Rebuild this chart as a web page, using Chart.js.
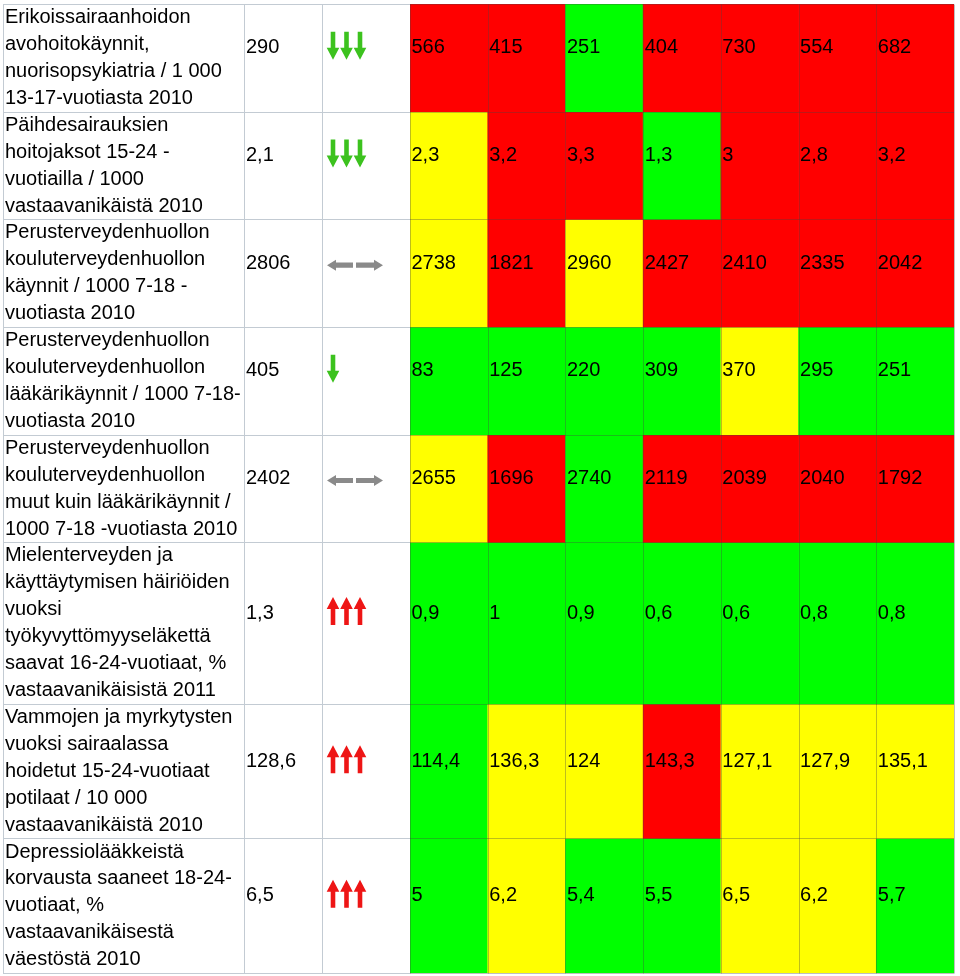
<!DOCTYPE html>
<html>
<head>
<meta charset="utf-8">
<script src="https://cdn.jsdelivr.net/npm/chart.js@4.4.1/dist/chart.umd.min.js"></script>
<style>
  html, body { margin: 0; padding: 0; background: #fff; }
  #wrap { width: 960px; height: 976px; }
</style>
</head>
<body>
<div id="wrap"><canvas id="table" width="960" height="976"></canvas></div>
<script>
// indicator names, one entry per printed line (row height follows line count)
const rowLabels = [
  ["Erikoissairaanhoidon", "avohoitokäynnit,", "nuorisopsykiatria / 1 000", "13-17-vuotiasta 2010"],
  ["Päihdesairauksien", "hoitojaksot 15-24 -", "vuotiailla / 1000", "vastaavanikäistä 2010"],
  ["Perusterveydenhuollon", "kouluterveydenhuollon", "käynnit / 1000 7-18 -", "vuotiasta 2010"],
  ["Perusterveydenhuollon", "kouluterveydenhuollon", "lääkärikäynnit / 1000 7-18-", "vuotiasta 2010"],
  ["Perusterveydenhuollon", "kouluterveydenhuollon", "muut kuin lääkärikäynnit /", "1000 7-18 -vuotiasta 2010"],
  ["Mielenterveyden ja", "käyttäytymisen häiriöiden", "vuoksi", "työkyvyttömyyseläkettä", "saavat 16-24-vuotiaat, %", "vastaavanikäisistä 2011"],
  ["Vammojen ja myrkytysten", "vuoksi sairaalassa", "hoidetut 15-24-vuotiaat", "potilaat / 10 000", "vastaavanikäistä 2010"],
  ["Depressiolääkkeistä", "korvausta saaneet 18-24-", "vuotiaat, %", "vastaavanikäisestä", "väestöstä 2010"]
];

// reference value and trend arrows
const refValues = [290, 2.1, 2806, 405, 2402, 1.3, 128.6, 6.5];
const trendDir = ["down", "down", "flat", "down", "flat", "up", "up", "up"];
const trendCount = [3, 3, 2, 1, 2, 3, 3, 3];

// the seven compared areas (headers not shown in the picture)
const areas = ["1", "2", "3", "4", "5", "6", "7"];

const cellValues = [
  [566, 415, 251, 404, 730, 554, 682],
  [2.3, 3.2, 3.3, 1.3, 3, 2.8, 3.2],
  [2738, 1821, 2960, 2427, 2410, 2335, 2042],
  [83, 125, 220, 309, 370, 295, 251],
  [2655, 1696, 2740, 2119, 2039, 2040, 1792],
  [0.9, 1, 0.9, 0.6, 0.6, 0.8, 0.8],
  [114.4, 136.3, 124, 143.3, 127.1, 127.9, 135.1],
  [5, 6.2, 5.4, 5.5, 6.5, 6.2, 5.7]
];

// R = red, Y = yellow, G = green
const cellStatus = [
  ["R", "R", "G", "R", "R", "R", "R"],
  ["Y", "R", "R", "G", "R", "R", "R"],
  ["Y", "R", "Y", "R", "R", "R", "R"],
  ["G", "G", "G", "G", "Y", "G", "G"],
  ["Y", "R", "G", "R", "R", "R", "R"],
  ["G", "G", "G", "G", "G", "G", "G"],
  ["G", "Y", "Y", "R", "Y", "Y", "Y"],
  ["G", "Y", "G", "G", "Y", "Y", "G"]
];

const statusColor = { R: "#ff0000", Y: "#ffff00", G: "#00ff00" };
const FONT = '20px "Liberation Sans", Arial, sans-serif';

// row extents in "text line" units
const rowStart = [];
let acc = 0;
rowLabels.forEach((lines) => { rowStart.push(acc); acc += lines.length; });
const totalLines = acc;

const fmt = (v) => String(v).replace(".", ",");

// left columns: label | value | trend arrows (cell borders in px)
const LABEL_X = 3, VALUE_X = 244, ARROW_X = 322;

function vArrow(ctx, cx, cy, dir, color) {
  // dir 1 = pointing down, -1 = pointing up
  const L = 28, sw = 2.3, hw = 6.3, hl = 12;
  const tip = cy + dir * L / 2, tail = cy - dir * L / 2, base = tip - dir * hl;
  ctx.fillStyle = color;
  ctx.beginPath();
  ctx.moveTo(cx - sw, tail);
  ctx.lineTo(cx + sw, tail);
  ctx.lineTo(cx + sw, base);
  ctx.lineTo(cx + hw, base);
  ctx.lineTo(cx, tip);
  ctx.lineTo(cx - hw, base);
  ctx.lineTo(cx - sw, base);
  ctx.closePath();
  ctx.fill();
}

function hArrow(ctx, from, to, cy, color) {
  const d = Math.sign(to - from), sw = 2.6, hw = 5.5, hl = 9;
  const base = to - d * hl;
  ctx.fillStyle = color;
  ctx.beginPath();
  ctx.moveTo(from, cy - sw);
  ctx.lineTo(base, cy - sw);
  ctx.lineTo(base, cy - hw);
  ctx.lineTo(to, cy);
  ctx.lineTo(base, cy + hw);
  ctx.lineTo(base, cy + sw);
  ctx.lineTo(from, cy + sw);
  ctx.closePath();
  ctx.fill();
}

const tablePlugin = {
  id: "tablePlugin",
  afterDatasetsDraw(chart) {
    const { ctx, chartArea: a, scales: { x, y } } = chart;
    const colW = x.width / areas.length;
    const bounds = rowStart.concat([totalLines]).map((v) => Math.round(y.getPixelForValue(v)) + 0.5);
    ctx.save();

    // grid: left part
    ctx.strokeStyle = "#c3cbd3";
    ctx.lineWidth = 1;
    ctx.beginPath();
    bounds.forEach((py) => { ctx.moveTo(LABEL_X, py); ctx.lineTo(a.left, py); });
    [LABEL_X, VALUE_X, ARROW_X].forEach((px) => {
      ctx.moveTo(px + 0.5, bounds[0]);
      ctx.lineTo(px + 0.5, bounds[bounds.length - 1]);
    });
    ctx.stroke();

    // grid: coloured part
    ctx.strokeStyle = "rgba(70,70,70,0.35)";
    ctx.beginPath();
    bounds.forEach((py) => { ctx.moveTo(a.left, py); ctx.lineTo(a.right, py); });
    for (let c = 0; c <= areas.length; c++) {
      const px = Math.round(a.left + c * colW) + 0.5;
      ctx.moveTo(px, bounds[0]);
      ctx.lineTo(px, bounds[bounds.length - 1]);
    }
    ctx.stroke();

    // texts
    ctx.font = FONT;
    ctx.textAlign = "left";
    ctx.textBaseline = "alphabetic";
    rowLabels.forEach((lines, r) => {
      ctx.fillStyle = "#000";
      lines.forEach((line, k) => {
        ctx.fillText(line, LABEL_X + 2, y.getPixelForValue(rowStart[r] + k + 0.71));
      });
      const mid = y.getPixelForValue(rowStart[r] + lines.length / 2);
      ctx.fillText(fmt(refValues[r]), VALUE_X + 2, mid - 4.5);
      cellValues[r].forEach((v, c) => {
        const left = x.getPixelForValue(c) - colW / 2;
        ctx.fillText(fmt(v), left + 1.5, mid - 4.5);
      });

      // trend arrows
      const dir = trendDir[r];
      if (dir === "flat") {
        const cy = mid - 8;
        hArrow(ctx, ARROW_X + 31, ARROW_X + 5, cy, "#8a8a8a");
        hArrow(ctx, ARROW_X + 34, ARROW_X + 61, cy, "#8a8a8a");
      } else {
        const color = dir === "down" ? "#3cc21e" : "#ee1515";
        for (let i = 0; i < trendCount[r]; i++) {
          vArrow(ctx, ARROW_X + 11 + i * 13.5, mid - 12, dir === "down" ? 1 : -1, color);
        }
      }
    });
    ctx.restore();
  }
};

new Chart(document.getElementById("table"), {
  type: "bar",
  data: {
    labels: areas,
    datasets: rowLabels.map((lines, r) => ({
      label: "row " + (r + 1),
      data: areas.map(() => [rowStart[r], rowStart[r] + lines.length]),
      backgroundColor: cellStatus[r].map((s) => statusColor[s]),
      grouped: false,
      barPercentage: 1,
      categoryPercentage: 1,
      borderWidth: 0
    }))
  },
  options: {
    responsive: false,
    animation: false,
    devicePixelRatio: 1,
    layout: { padding: { left: 410, right: 6, top: 4, bottom: 3 } },
    plugins: { legend: { display: false }, tooltip: { enabled: false } },
    scales: {
      x: { display: false },
      y: { display: false, reverse: true, min: 0, max: totalLines }
    }
  },
  plugins: [tablePlugin]
});
</script>
</body>
</html>
